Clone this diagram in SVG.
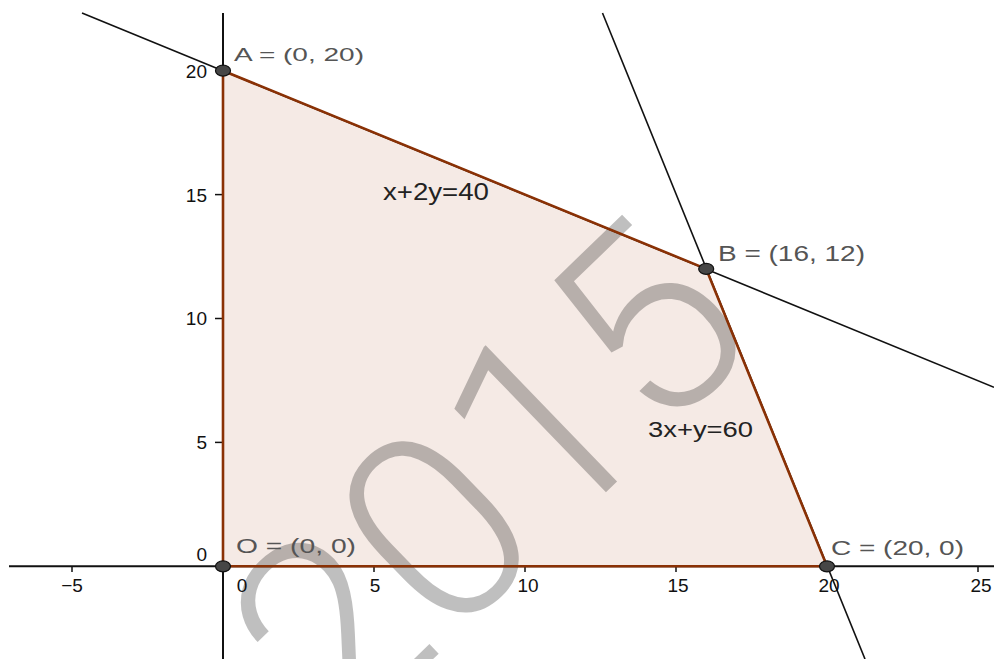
<svg xmlns="http://www.w3.org/2000/svg" width="994" height="659" viewBox="0 0 994 659">
<style>
.ax{stroke:#111;stroke-width:2;fill:none}
.tk{stroke:#111;stroke-width:1.5}
.ln{stroke:#111;stroke-width:1.6;fill:none}
.edge{stroke:#8a3105;stroke-width:2.6;fill:none;stroke-linejoin:round}
.tl{font-family:"Liberation Sans",Arial,sans-serif;font-size:19px;fill:#111}
.pl{font-family:"Liberation Sans",Arial,sans-serif;fill:#555}
.el{font-family:"Liberation Sans",Arial,sans-serif;fill:#222}
.pt{fill:#464646;stroke:#111;stroke-width:1.2}
.wm{font-family:Roboto,"Liberation Sans",sans-serif;font-weight:300;font-size:265px;fill:#000;fill-opacity:0.25}
</style>
<rect width="994" height="659" fill="#fff"/>
<g id="region">
<polygon points="223,566.3 223,70.7 706.2,268.9 827,566.3" fill="#993300" fill-opacity="0.1"/>
</g>
<g id="watermark">
<text class="wm" transform="translate(341,748) rotate(-44)">2015</text>
</g>
<g id="axes">
<line class="ax" x1="9" y1="566.3" x2="994" y2="566.3"/>
<line class="ax" x1="223" y1="13" x2="223" y2="659"/>
<g class="tk">
<line x1="72" y1="566" x2="72" y2="572"/>
<line x1="374" y1="566" x2="374" y2="572"/>
<line x1="525" y1="566" x2="525" y2="572"/>
<line x1="676" y1="566" x2="676" y2="572"/>
<line x1="827" y1="566" x2="827" y2="572"/>
<line x1="978" y1="566" x2="978" y2="572"/>
<line x1="215" y1="442.4" x2="223" y2="442.4"/>
<line x1="215" y1="318.5" x2="223" y2="318.5"/>
<line x1="215" y1="194.6" x2="223" y2="194.6"/>
<line x1="215" y1="70.7" x2="223" y2="70.7"/>
</g>
<g class="tl" text-anchor="middle">
<text x="72" y="592">−5</text>
<text x="242" y="592">0</text>
<text x="375" y="592">5</text>
<text x="528" y="592">10</text>
<text x="678" y="592">15</text>
<text x="829" y="592">20</text>
<text x="981" y="592">25</text>
</g>
<g class="tl" text-anchor="end">
<text x="207" y="78">20</text>
<text x="207" y="202">15</text>
<text x="207" y="325">10</text>
<text x="207" y="449">5</text>
<text x="207" y="561">0</text>
</g>
</g>
<g id="connectors">
<line id="line-x2y40" class="ln" x1="82" y1="13" x2="994" y2="387.3"/>
<line id="line-3xy60" class="ln" x1="602.5" y1="13" x2="865" y2="659"/>
<polyline id="edges" class="edge" points="223,566.3 223,70.7 706.2,268.9 827,566.3 223,566.3"/>
</g>
<g id="eq1"><text class="el" x="383" y="200" font-size="23" textLength="106" lengthAdjust="spacingAndGlyphs">x+2y=40</text></g>
<g id="eq2"><text class="el" x="648" y="437" font-size="22" textLength="105" lengthAdjust="spacingAndGlyphs">3x+y=60</text></g>
<g id="pointO">
<ellipse class="pt" cx="223" cy="566.3" rx="7.5" ry="5.5"/>
<text class="pl" x="236" y="553" font-size="20" textLength="120" lengthAdjust="spacingAndGlyphs">O = (0, 0)</text>
</g>
<g id="pointA">
<ellipse class="pt" cx="223" cy="70.7" rx="7.5" ry="5.5"/>
<text class="pl" x="234" y="61" font-size="19" textLength="130" lengthAdjust="spacingAndGlyphs">A = (0, 20)</text>
</g>
<g id="pointB">
<ellipse class="pt" cx="706.2" cy="268.9" rx="7.5" ry="5.5"/>
<text class="pl" x="718" y="261" font-size="22" textLength="147" lengthAdjust="spacingAndGlyphs">B = (16, 12)</text>
</g>
<g id="pointC">
<ellipse class="pt" cx="827" cy="566.3" rx="7.5" ry="5.5"/>
<text class="pl" x="831" y="555" font-size="20" textLength="133" lengthAdjust="spacingAndGlyphs">C = (20, 0)</text>
</g>
</svg>
